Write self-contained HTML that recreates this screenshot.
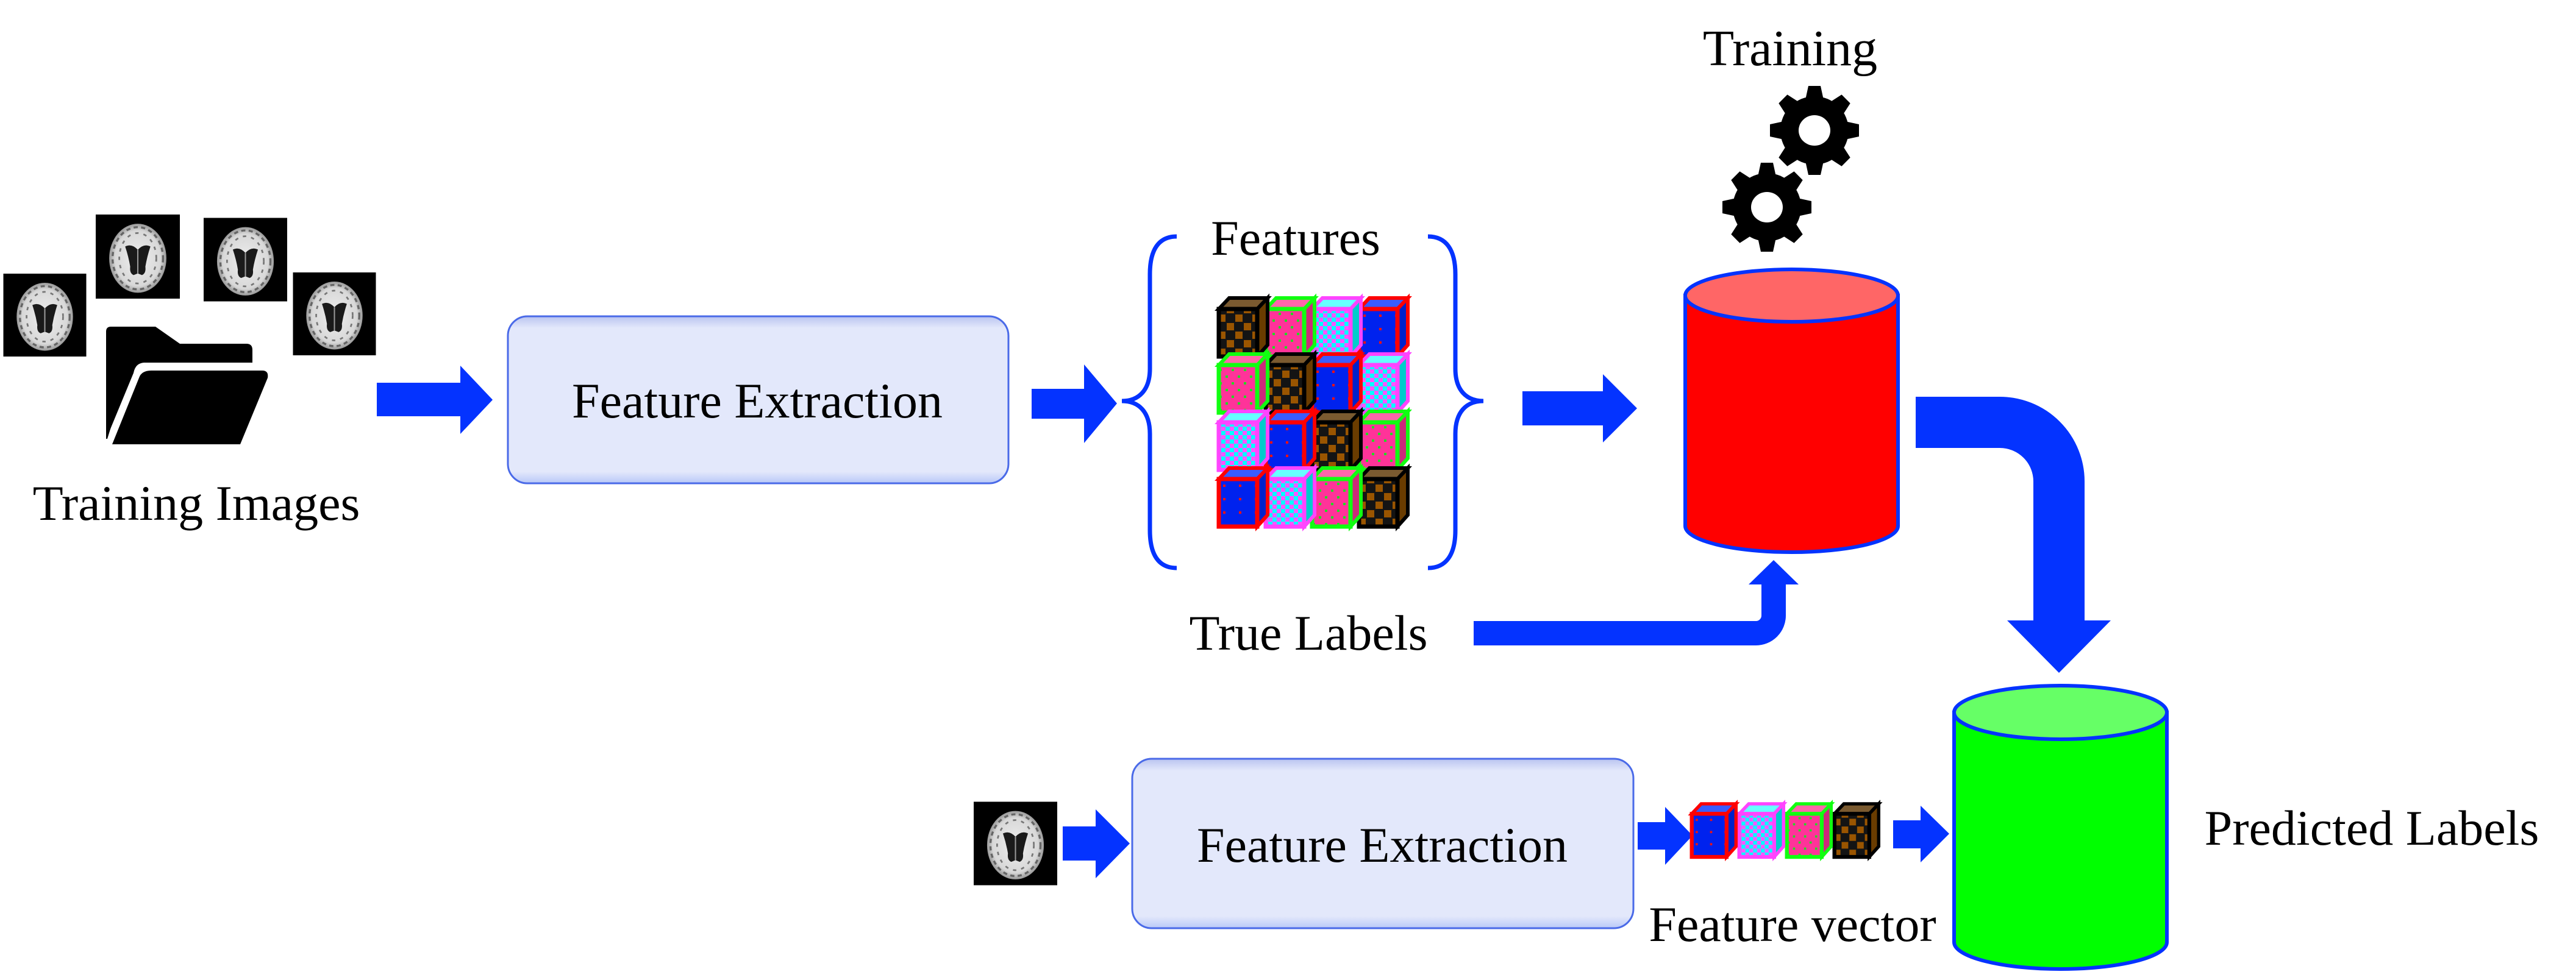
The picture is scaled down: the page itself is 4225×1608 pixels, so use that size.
<!DOCTYPE html>
<html><head><meta charset="utf-8"><style>
html,body{margin:0;padding:0;background:#fff;}
svg{display:block;}
text{font-family:"Liberation Serif","Times New Roman",serif;fill:#000;}
</style></head><body>
<svg width="4225" height="1608" viewBox="0 0 4225 1608" xmlns="http://www.w3.org/2000/svg" font-family="Liberation Serif, serif">
<defs>
  <radialGradient id="brg" cx="50%" cy="50%" r="50%">
    <stop offset="0" stop-color="#eeeeee"/><stop offset="0.8" stop-color="#d8d8d8"/><stop offset="1" stop-color="#999"/>
  </radialGradient>
  <symbol id="brain" viewBox="0 0 100 100">
    <rect width="100" height="100" fill="#000"/>
    <ellipse cx="50" cy="52" rx="34" ry="41" fill="url(#brg)"/>
    <ellipse cx="50" cy="52" rx="30" ry="37" fill="none" stroke="#666" stroke-width="2.5" stroke-dasharray="5 4"/>
    <ellipse cx="50" cy="52" rx="22" ry="30" fill="none" stroke="#777" stroke-width="2" stroke-dasharray="4 6"/>
    <path d="M35,38 Q43,34 50,42 Q57,34 65,38 Q61,50 59,62 Q60,70 55,72 L50,70 L45,72 Q40,70 41,62 Q39,50 35,38Z" fill="#1a1a1a"/>
    <line x1="50" y1="42" x2="50" y2="70" stroke="#999" stroke-width="1.5"/>
  </symbol>
  <linearGradient id="boxg" x1="0" y1="0" x2="0" y2="1">
    <stop offset="0" stop-color="#b9c3f0"/><stop offset="0.07" stop-color="#e3e8fb"/><stop offset="0.93" stop-color="#e3e8fb"/><stop offset="1" stop-color="#b8c8f8"/>
  </linearGradient>
  <pattern id="pB" width="28" height="28" patternUnits="userSpaceOnUse">
    <rect width="28" height="28" fill="#141414"/>
    <rect x="2" y="2" width="12" height="12" fill="#9a5500"/><rect x="16" y="16" width="12" height="12" fill="#9a5500"/>
  </pattern>
  <pattern id="pP" width="20" height="22" patternUnits="userSpaceOnUse">
    <rect width="20" height="22" fill="#ff3399"/>
    <rect x="4" y="5" width="4" height="4" fill="#22dd22"/><rect x="14" y="16" width="4" height="4" fill="#22dd22"/>
  </pattern>
  <pattern id="pM" width="14" height="14" patternUnits="userSpaceOnUse">
    <rect width="14" height="14" fill="#ff55ff"/>
    <rect width="7" height="7" fill="#00ffff"/><rect x="7" y="7" width="7" height="7" fill="#00ffff"/>
  </pattern>
  <pattern id="pL" width="26" height="22" patternUnits="userSpaceOnUse">
    <rect width="26" height="22" fill="#0022ee"/>
    <rect x="10" y="8" width="4" height="4" fill="#ee1111"/>
  </pattern>
  <symbol id="cB" viewBox="0 0 86 102" overflow="visible">
    <path d="M3,21 L20,3 L83,3 L66,21Z" fill="#7a5a30" stroke="#000" stroke-width="6"/>
    <path d="M66,21 L83,3 L83,80 L66,99Z" fill="#6a3c00" stroke="#000" stroke-width="6"/>
    <rect x="3" y="21" width="63" height="78" fill="url(#pB)" stroke="#000" stroke-width="7"/>
  </symbol>
  <symbol id="cP" viewBox="0 0 86 102" overflow="visible">
    <path d="M3,21 L20,3 L83,3 L66,21Z" fill="#ff66aa" stroke="#11ff11" stroke-width="6"/>
    <path d="M66,21 L83,3 L83,80 L66,99Z" fill="#cc2a7a" stroke="#11ff11" stroke-width="6"/>
    <rect x="3" y="21" width="63" height="78" fill="url(#pP)" stroke="#11ff11" stroke-width="7"/>
  </symbol>
  <symbol id="cM" viewBox="0 0 86 102" overflow="visible">
    <path d="M3,21 L20,3 L83,3 L66,21Z" fill="#66ffff" stroke="#ff44ff" stroke-width="6"/>
    <path d="M66,21 L83,3 L83,80 L66,99Z" fill="#00cccc" stroke="#ff44ff" stroke-width="6"/>
    <rect x="3" y="21" width="63" height="78" fill="url(#pM)" stroke="#ff44ff" stroke-width="7"/>
  </symbol>
  <symbol id="cL" viewBox="0 0 86 102" overflow="visible">
    <path d="M3,21 L20,3 L83,3 L66,21Z" fill="#3a5cff" stroke="#ff0000" stroke-width="6"/>
    <path d="M66,21 L83,3 L83,80 L66,99Z" fill="#0022cc" stroke="#ff0000" stroke-width="6"/>
    <rect x="3" y="21" width="63" height="78" fill="url(#pL)" stroke="#ff0000" stroke-width="7"/>
  </symbol>
  <symbol id="gear" viewBox="-80 -80 160 160">
    <g fill="#000">
      <circle r="56"/>
      <path d="M-15,-50 L-10,-73 L10,-73 L15,-50Z" transform="rotate(0)"/>
      <path d="M-15,-50 L-10,-73 L10,-73 L15,-50Z" transform="rotate(45)"/>
      <path d="M-15,-50 L-10,-73 L10,-73 L15,-50Z" transform="rotate(90)"/>
      <path d="M-15,-50 L-10,-73 L10,-73 L15,-50Z" transform="rotate(135)"/>
      <path d="M-15,-50 L-10,-73 L10,-73 L15,-50Z" transform="rotate(180)"/>
      <path d="M-15,-50 L-10,-73 L10,-73 L15,-50Z" transform="rotate(225)"/>
      <path d="M-15,-50 L-10,-73 L10,-73 L15,-50Z" transform="rotate(270)"/>
      <path d="M-15,-50 L-10,-73 L10,-73 L15,-50Z" transform="rotate(315)"/>
    </g>
    <ellipse rx="26" ry="25" fill="#fff"/>
  </symbol>
</defs>

<!-- training images -->
<use href="#brain" x="5" y="449" width="137" height="136"/>
<use href="#brain" x="157" y="352" width="138" height="138"/>
<use href="#brain" x="334" y="357" width="137" height="138"/>
<use href="#brain" x="480" y="447" width="137" height="136"/>
<!-- folder -->
<path d="M174,544 Q174,536 182,536 L255,536 L295,564 L404,564 Q414,564 414,574 L414,595 L236,595 Q222,596 219,612 L176,716 L174,716Z" fill="#000"/>
<path d="M248,608 L430,608 Q441,608 439,620 L394,729 L184,729 L228,620 Q232,608 248,608Z" fill="#000"/>
<path d="M174,595 L215,595 L176,720 L174,720Z" fill="#000"/>
<text x="322" y="853" font-size="82" text-anchor="middle">Training Images</text>

<!-- arrow 1 -->
<polygon points="618,628 755,628 755,600 808,656 755,712 755,683 618,683" fill="#0433ff"/>

<!-- box 1 -->
<rect x="833" y="519" width="821" height="274" rx="32" fill="url(#boxg)" stroke="#4a6ae8" stroke-width="3"/>
<text x="1242" y="685" font-size="82" text-anchor="middle">Feature Extraction</text>

<!-- arrow 2 -->
<polygon points="1692,638 1778,638 1778,598 1832,662 1778,727 1778,687 1692,687" fill="#0433ff"/>

<!-- braces -->
<path d="M1930,388 C1900,388 1886,410 1886,450 L1886,605 C1886,640 1868,658 1840,658 C1868,658 1886,676 1886,712 L1886,870 C1886,910 1900,932 1930,932" fill="none" stroke="#0433ff" stroke-width="7"/>
<path d="M2342,388 C2372,388 2387,410 2387,450 L2387,605 C2387,640 2405,658 2433,658 C2405,658 2387,676 2387,712 L2387,870 C2387,910 2372,932 2342,932" fill="none" stroke="#0433ff" stroke-width="7"/>
<text x="2125" y="418" font-size="82" text-anchor="middle">Features</text>

<!-- cubes grid -->
<use href="#cL" x="2226" y="486" width="86" height="102"/>
<use href="#cM" x="2149" y="486" width="86" height="102"/>
<use href="#cP" x="2073" y="486" width="86" height="102"/>
<use href="#cB" x="1996" y="486" width="86" height="102"/>
<use href="#cM" x="2226" y="578" width="86" height="102"/>
<use href="#cL" x="2149" y="578" width="86" height="102"/>
<use href="#cB" x="2073" y="578" width="86" height="102"/>
<use href="#cP" x="1996" y="578" width="86" height="102"/>
<use href="#cP" x="2226" y="672" width="86" height="102"/>
<use href="#cB" x="2149" y="672" width="86" height="102"/>
<use href="#cL" x="2073" y="672" width="86" height="102"/>
<use href="#cM" x="1996" y="672" width="86" height="102"/>
<use href="#cB" x="2226" y="765" width="86" height="102"/>
<use href="#cP" x="2149" y="765" width="86" height="102"/>
<use href="#cM" x="2073" y="765" width="86" height="102"/>
<use href="#cL" x="1996" y="765" width="86" height="102"/>

<!-- arrow 3 -->
<polygon points="2497,642 2629,642 2629,614 2685,670 2629,726 2629,698 2497,698" fill="#0433ff"/>

<!-- training + gears -->
<text x="2936" y="107" font-size="84" text-anchor="middle">Training</text>
<use href="#gear" x="2896" y="134" width="160" height="160"/>
<use href="#gear" x="2818" y="260" width="160" height="160"/>

<!-- red cylinder -->
<path d="M2764,485 L2764,863 A174.5,43 0 0 0 3113,863 L3113,485Z" fill="#ff0000" stroke="#0433ff" stroke-width="6"/>
<ellipse cx="2938.5" cy="485" rx="174.5" ry="43" fill="#ff6666" stroke="#0433ff" stroke-width="6"/>

<!-- curved arrow -->
<path d="M3142,693 L3280,693 A97,97 0 0 1 3377,790 L3377,1022" fill="none" stroke="#0433ff" stroke-width="84"/>
<polygon points="3292,1018 3462,1018 3377,1104" fill="#0433ff"/>

<!-- true labels arrow -->
<text x="2146" y="1066" font-size="82" text-anchor="middle">True Labels</text>
<path d="M2417,1039 L2880,1039 A29,29 0 0 0 2909,1010 L2909,956" fill="none" stroke="#0433ff" stroke-width="40"/>
<polygon points="2868,959 2950,959 2909,919" fill="#0433ff"/>

<!-- bottom row -->
<use href="#brain" x="1597" y="1314" width="137" height="140"/>
<polygon points="1743,1356 1797,1356 1797,1328 1853,1384 1797,1441 1797,1412 1743,1412" fill="#0433ff"/>
<rect x="1857" y="1245" width="822" height="278" rx="32" fill="url(#boxg)" stroke="#4a6ae8" stroke-width="3"/>
<text x="2267" y="1414" font-size="82" text-anchor="middle">Feature Extraction</text>
<polygon points="2686,1349 2731,1349 2731,1324 2776,1371 2731,1419 2731,1394 2686,1394" fill="#0433ff"/>
<use href="#cB" x="3006" y="1311" width="78" height="103"/>
<use href="#cP" x="2928" y="1311" width="78" height="103"/>
<use href="#cM" x="2850" y="1311" width="78" height="103"/>
<use href="#cL" x="2772" y="1311" width="78" height="103"/>
<polygon points="3105,1346 3150,1346 3150,1322 3197,1368 3150,1415 3150,1392 3105,1392" fill="#0433ff"/>
<text x="2940" y="1544" font-size="82" text-anchor="middle">Feature vector</text>

<!-- green cylinder -->
<path d="M3205,1169 L3205,1546 A174.5,44 0 0 0 3554,1546 L3554,1169Z" fill="#00ff00" stroke="#0433ff" stroke-width="6"/>
<ellipse cx="3379.5" cy="1169" rx="174.5" ry="44" fill="#66ff66" stroke="#0433ff" stroke-width="6"/>
<text x="3890" y="1386" font-size="82" text-anchor="middle">Predicted Labels</text>
</svg>
</body></html>
